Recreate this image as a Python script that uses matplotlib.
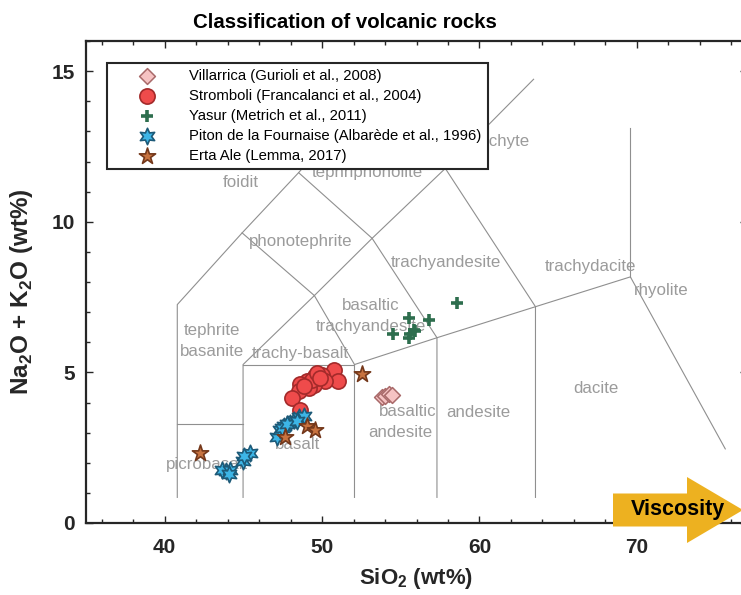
import numpy as np
import matplotlib
matplotlib.use('Agg')
import matplotlib.pyplot as plt
from matplotlib.ticker import MultipleLocator
from matplotlib.patches import Polygon

plt.rcParams['font.family'] = ['Liberation Sans', 'DejaVu Sans']
plt.rcParams['mathtext.fontset'] = 'custom'
plt.rcParams['mathtext.rm'] = 'Liberation Sans:bold'
plt.rcParams['mathtext.bf'] = 'Liberation Sans:bold'

# Sample data (SiO2, Na2O+K2O) in wt%
villarrica_si = [53.8, 54.0, 54.25, 54.45]
villarrica_alk = [4.18, 4.22, 4.27, 4.25]

stromboli_si = [50.74, 50.99, 50.0, 50.2, 49.57, 49.47, 49.05, 49.15, 48.62, 48.51,
                48.09, 48.58, 49.36, 49.68, 49.9, 48.85]
stromboli_alk = [5.07, 4.70, 4.90, 4.70, 4.87, 4.59, 4.70, 4.48, 4.63, 4.37,
                 4.15, 3.76, 4.76, 4.98, 4.80, 4.55]

yasur_si = [58.58, 55.5, 56.82, 54.51, 55.82, 55.61, 55.5, 55.93]
yasur_alk = [7.31, 6.81, 6.75, 6.26, 6.42, 6.26, 6.15, 6.37]

piton_si = [43.87, 43.65, 44.17, 44.98, 45.45, 45.02, 47.14, 47.35, 47.56, 47.46,
            47.99, 48.2, 48.51, 48.83, 47.78, 48.41, 44.07]
piton_alk = [1.71, 1.77, 1.77, 2.05, 2.33, 2.21, 2.86, 3.10, 3.21, 3.16,
             3.32, 3.43, 3.52, 3.56, 3.27, 3.38, 1.64]

erta_si = [42.27, 47.67, 49.05, 49.57, 52.54]
erta_alk = [2.33, 2.86, 3.23, 3.10, 4.93]

# TAS field boundaries
base = 0.85
tas_lines = [
    [(40.8, base), (40.8, 7.25), (44.92, 9.63), (48.51, 11.63), (52.7, 14.1)],
    [(40.8, 3.29), (44.98, 3.29)],
    [(44.98, base), (44.98, 5.26), (49.51, 7.55), (53.18, 9.45), (57.83, 11.77), (63.44, 14.73)],
    [(44.98, 5.26), (52.06, 5.26)],
    [(52.06, base), (52.06, 5.26), (57.3, 6.15), (63.56, 7.18), (69.59, 8.17), (75.62, 2.46)],
    [(49.51, 7.55), (52.06, 5.26)],
    [(44.92, 9.63), (49.51, 7.55)],
    [(48.51, 11.63), (53.18, 9.45), (57.3, 6.15), (57.3, base)],
    [(52.7, 14.1), (57.83, 11.77), (63.56, 7.18), (63.56, base)],
    [(69.59, 8.17), (69.59, 13.1)],
]

field_names = ['foidit', 'tephriphonolite', 'trachyte', 'phonotephrite', 'trachyandesite',
               'basaltic', 'trachyandesite', 'tephrite', 'basanite', 'trachy-basalt',
               'basaltic', 'andesite', 'basalt', 'picrobasalt', 'andesite', 'dacite',
               'trachydacite', 'rhyolite']
field_x = [44.81, 52.86, 61.3, 48.63, 57.9, 53.11, 53.11, 43.01, 43.01, 48.62,
           55.42, 54.97, 48.41, 42.69, 59.95, 67.41, 67.05, 71.54]
field_y = [11.31, 11.62, 12.67, 9.35, 8.64, 7.22, 6.53, 6.40, 5.70, 5.62,
           3.71, 2.99, 2.60, 1.94, 3.67, 4.45, 8.52, 7.73]

fig = plt.figure(figsize=(7.41, 5.95), dpi=100)
ax = fig.add_axes([86/741, 72/595, 661/741, 482/595])

for seg in tas_lines:
    seg = np.array(seg)
    ax.plot(seg[:, 0], seg[:, 1], color='#8f8f8f', lw=0.8, zorder=1)

for name, x, y in zip(field_names, field_x, field_y):
    ax.text(x, y, name, color='#9b9b9b', fontsize=12.2, ha='center', va='center', zorder=2)

hexagram = (6, 1, 0)
ax.scatter(villarrica_si, villarrica_alk, marker='D', s=65, facecolor='#f6c3c3',
           edgecolor='#a96a6a', lw=1.1, zorder=3, label='Villarrica (Gurioli et al., 2008)')
ax.scatter(stromboli_si, stromboli_alk, marker='o', s=120, facecolor='#ef4b4b',
           edgecolor='#a32a2a', lw=1.2, zorder=3, label='Stromboli (Francalanci et al., 2004)')
ax.scatter(yasur_si, yasur_alk, marker='+', s=85, color='#2e6e4e', lw=2.6,
           zorder=3, label='Yasur (Metrich et al., 2011)')
ax.scatter(piton_si, piton_alk, marker=hexagram, s=140, facecolor='#3db5e6',
           edgecolor='#1d5a78', lw=1.2, zorder=3,
           label='Piton de la Fournaise (Albarède et al., 1996)')
ax.scatter(erta_si, erta_alk, marker='*', s=150, facecolor='#c87340',
           edgecolor='#74381b', lw=1.2, zorder=3, label='Erta Ale (Lemma, 2017)')

ax.set_xlim(35, 77)
ax.set_ylim(0, 16)
ax.xaxis.set_major_locator(MultipleLocator(10))
ax.xaxis.set_minor_locator(MultipleLocator(2))
ax.yaxis.set_major_locator(MultipleLocator(5))
ax.yaxis.set_minor_locator(MultipleLocator(1))
ax.tick_params(which='both', direction='in', top=True, right=True, color='#262626', width=1)
ax.tick_params(which='major', length=5, labelsize=15, labelcolor='#262626')
ax.tick_params(which='minor', length=3)
ax.tick_params(axis='x', pad=11)
ax.tick_params(axis='y', pad=8)
for lbl in ax.get_xticklabels() + ax.get_yticklabels():
    lbl.set_fontweight('bold')
for sp in ax.spines.values():
    sp.set_linewidth(1.6)
    sp.set_color('#262626')

ax.set_xlabel(r'SiO$_2$ (wt%)', fontsize=16, fontweight='bold', color='#262626', labelpad=6)
ax.set_ylabel(r'Na$_2$O + K$_2$O (wt%)', fontsize=17.5, fontweight='bold', color='#262626')
ax.yaxis.set_label_coords(-0.077, 0.481)
fig.text(345/741, 1 - 22/595, 'Classification of volcanic rocks', fontsize=14.7,
         fontweight='bold', ha='center', va='center')

leg = ax.legend(loc='upper left', bbox_to_anchor=(107/741, 1 - 63/595),
                bbox_transform=fig.transFigure, borderaxespad=0, fontsize=10.7,
                frameon=True, fancybox=False, framealpha=1, edgecolor='#262626',
                handlelength=4.5, handletextpad=0.6, borderpad=0.42,
                labelspacing=0.4, scatterpoints=1)
leg.get_frame().set_linewidth(1.5)
leg.set_zorder(5)


# viscosity arrow drawn in figure pixels
def arrow_shape(x0, xneck, xtip, ymid, body_h, head_h):
    pts = [(x0, ymid - body_h/2), (xneck, ymid - body_h/2), (xneck, ymid - head_h/2),
           (xtip, ymid), (xneck, ymid + head_h/2), (xneck, ymid + body_h/2),
           (x0, ymid + body_h/2)]
    return [(px/741, 1 - py/595) for px, py in pts]


fig.patches.append(Polygon(arrow_shape(613, 687, 743, 510, 33, 66), closed=True,
                           facecolor='#edb120', edgecolor='none',
                           transform=fig.transFigure, zorder=10))
fig.text(678/741, 1 - 509/595, 'Viscosity', fontsize=15.5, fontweight='bold',
         ha='center', va='center', color='black', zorder=11)

fig.savefig('out.png', dpi=100)
